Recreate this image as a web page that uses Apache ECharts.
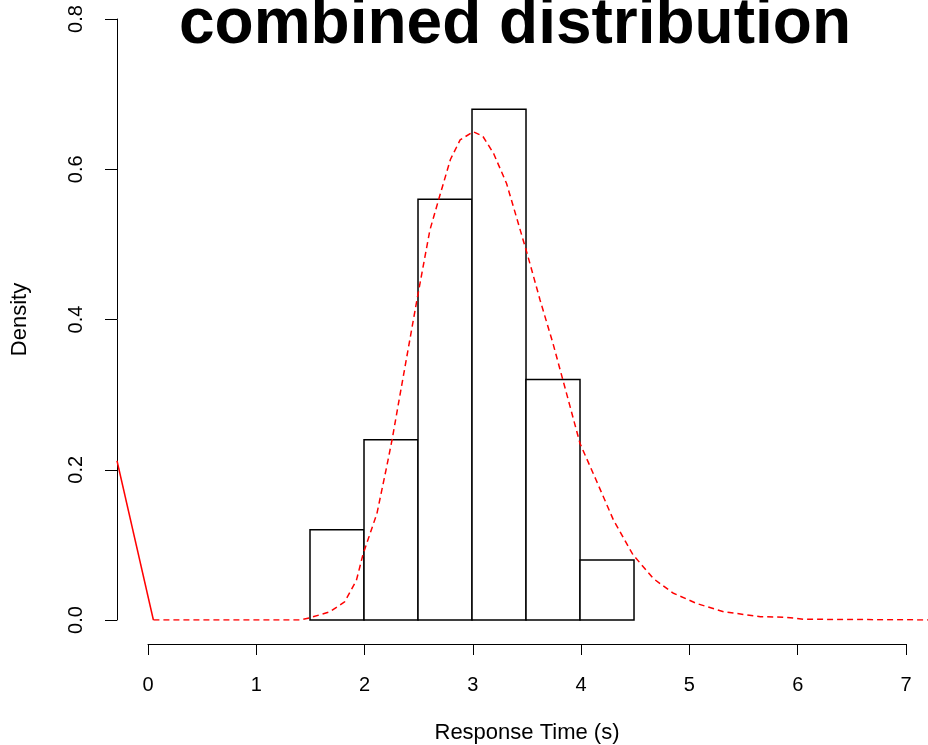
<!DOCTYPE html>
<html>
<head>
<meta charset="utf-8">
<script src="https://cdn.jsdelivr.net/npm/echarts@6/dist/echarts.min.js"></script>
<style>
html,body{margin:0;padding:0;background:#fff;}
#chart{width:928px;height:745px;}
</style>
</head>
<body>
<div id="chart"></div>
<script>
// Histogram bins (Response Time, s) and densities
const binStarts = [1.5, 2.0, 2.5, 3.0, 3.5, 4.0];
const binEnds   = [2.0, 2.5, 3.0, 3.5, 4.0, 4.5];
const binDensity = [0.12, 0.24, 0.56, 0.68, 0.32, 0.08];

// Solid red segment
const solidX = [-0.287, 0.05];
const solidY = [0.212, 0.0];

// Dashed red density curve
const densX = [0.05, 1.41, 1.5, 1.685, 1.82, 1.93, 1.99, 2.12, 2.21, 2.26, 2.33, 2.49, 2.61, 2.70, 2.80, 2.89, 3.01, 3.10, 3.20, 3.32, 3.41, 3.51, 3.63, 3.75, 3.85, 4.0, 4.15, 4.31, 4.49, 4.68, 4.86, 5.08, 5.33, 5.67, 5.91, 6.07, 7.3];
const densY = [0.0, 0.0, 0.003, 0.011, 0.024, 0.053, 0.087, 0.142, 0.204, 0.24, 0.297, 0.426, 0.519, 0.564, 0.613, 0.639, 0.650, 0.644, 0.621, 0.581, 0.537, 0.488, 0.426, 0.368, 0.315, 0.235, 0.186, 0.133, 0.087, 0.055, 0.036, 0.022, 0.011, 0.0044, 0.0036, 0.001, 0.0];

const xTicks = [0, 1, 2, 3, 4, 5, 6, 7];
const yTicks = [0.0, 0.2, 0.4, 0.6, 0.8];

const FONT = 'Liberation Sans, Arial, Helvetica, sans-serif';

const histData = binStarts.map((s, i) => [s, binEnds[i], binDensity[i]]);

const chart = echarts.init(document.getElementById('chart'));
chart.setOption({
  animation: false,
  backgroundColor: '#ffffff',
  title: {
    text: 'combined distribution',
    left: 510,
    textAlign: 'center',
    top: -12,
    textStyle: {fontFamily: FONT, fontWeight: 'bold', fontSize: 64, color: '#000'}
  },
  grid: [
    {left: 117, right: 0, top: 19, bottom: 125, containLabel: false, outerBoundsMode: 'none'},
    {left: 148, right: 22, top: 630, bottom: 101, containLabel: false, outerBoundsMode: 'none'}
  ],
  xAxis: [
    {type: 'value', gridIndex: 0, min: -0.287, max: 7.222, show: false},
    {
      type: 'value', gridIndex: 1, min: xTicks[0], max: xTicks[xTicks.length - 1], interval: 1,
      axisLine: {show: true, onZero: false, lineStyle: {color: '#000', width: 1}},
      axisTick: {show: true, inside: false, length: 11, lineStyle: {color: '#000'}},
      axisLabel: {fontFamily: FONT, fontSize: 20, color: '#000', margin: 31},
      splitLine: {show: false},
      name: 'Response Time (s)', nameLocation: 'middle', nameGap: 78, nameMoveOverlap: false,
      nameTextStyle: {fontFamily: FONT, fontSize: 22, color: '#000'}
    }
  ],
  yAxis: [
    {
      type: 'value', gridIndex: 0, min: yTicks[0], max: yTicks[yTicks.length - 1], interval: 0.2,
      axisLine: {show: true, onZero: false, lineStyle: {color: '#000', width: 1}},
      axisTick: {show: true, inside: false, length: 12, lineStyle: {color: '#000'}},
      axisLabel: {fontFamily: FONT, fontSize: 20, color: '#000', rotate: 90, margin: 31,
                  formatter: v => v.toFixed(1)},
      splitLine: {show: false},
      name: 'Density', nameLocation: 'middle', nameGap: 86, nameRotate: 90, nameMoveOverlap: false,
      nameTextStyle: {fontFamily: FONT, fontSize: 22, color: '#000'}
    },
    {type: 'value', gridIndex: 1, show: false, min: 0, max: 1}
  ],
  series: [
    {
      type: 'custom', xAxisIndex: 0, yAxisIndex: 0,
      data: histData,
      renderItem: function (params, api) {
        const p0 = api.coord([api.value(0), api.value(2)]);
        const p1 = api.coord([api.value(1), 0]);
        return {
          type: 'rect',
          shape: {x: p0[0], y: p0[1], width: p1[0] - p0[0], height: p1[1] - p0[1]},
          style: {fill: '#fff', stroke: '#000', lineWidth: 1.5}
        };
      },
      z: 2
    },
    {
      type: 'line', xAxisIndex: 0, yAxisIndex: 0,
      data: solidX.map((x, i) => [x, solidY[i]]),
      symbol: 'none', lineStyle: {color: '#ff0000', width: 1.5, type: 'solid'},
      z: 3
    },
    {
      type: 'line', xAxisIndex: 0, yAxisIndex: 0,
      data: densX.map((x, i) => [x, densY[i]]),
      symbol: 'none', lineStyle: {color: '#ff0000', width: 1.5, type: [6, 4]},
      z: 3
    }
  ]
});
</script>
</body>
</html>
